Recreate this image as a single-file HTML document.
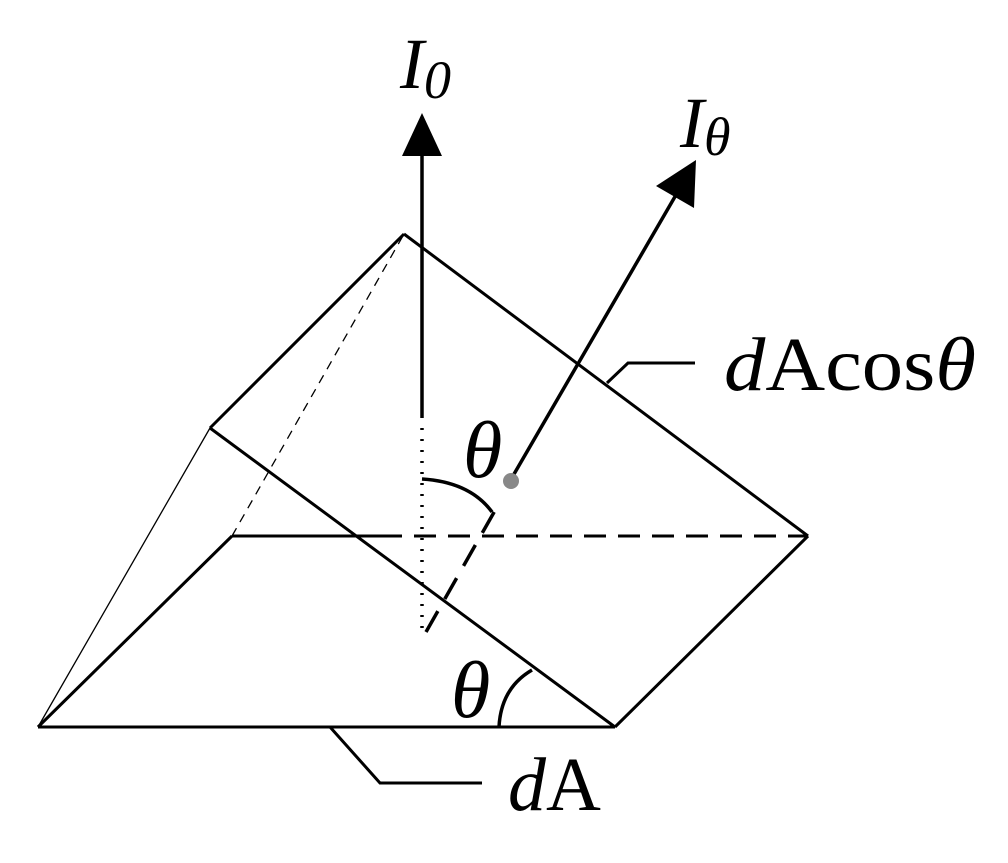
<!DOCTYPE html>
<html><head><style>body{margin:0;background:#fff}svg{display:block}</style></head><body>
<svg width="1008" height="863" viewBox="0 0 1008 863" xmlns="http://www.w3.org/2000/svg">
<g stroke="#000" fill="none" stroke-width="3">
<line x1="38" y1="727" x2="615" y2="727"/>
<line x1="404" y1="234" x2="808" y2="536"/>
<line x1="210" y1="428" x2="615" y2="727"/>
<line x1="404" y1="234" x2="210" y2="428"/>
<line x1="808" y1="536" x2="615" y2="727"/>
<line x1="38" y1="727" x2="232" y2="536"/>
<line x1="38" y1="727" x2="210" y2="428" stroke-width="1.3"/>
<line x1="232" y1="536" x2="404" y2="234" stroke-width="1.3" stroke-dasharray="9,7"/>
<line x1="232" y1="536" x2="380" y2="536"/>
<line x1="380" y1="536" x2="808" y2="536" stroke-dasharray="22,12"/>
<line x1="422" y1="150" x2="422" y2="418" stroke-width="3.5"/>
<line x1="422" y1="428" x2="422" y2="632" stroke-width="3.5" stroke-dasharray="2,9"/>
<line x1="426" y1="632" x2="497" y2="507" stroke-width="3.5" stroke-dasharray="24,14"/>
<line x1="510" y1="481" x2="680" y2="188" stroke-width="3.5"/>
<path d="M422 479 Q470 482 492 512" stroke-width="3.5"/>
<path d="M499 727 Q501 688 532 670" stroke-width="3.5"/>
<polyline points="330,727 380,783 482,783"/>
<polyline points="607,383 628,363 695,363"/>
</g>
<polygon points="422,113 402,156 442,156" fill="#000"/>
<polygon points="696,160 656,186 694,208" fill="#000"/>
<circle cx="511" cy="481" r="8" fill="#888"/>
<g font-family="Liberation Serif, serif" font-style="italic" fill="#000">
<text x="400" y="88" font-size="72">I<tspan font-size="54" dy="10">0</tspan></text>
<text x="680" y="147" font-size="72">I<tspan font-size="54" dy="8">θ</tspan></text>
<text x="463" y="477" font-size="80">θ</text>
<text x="451" y="717" font-size="80">θ</text>
<text x="508" y="810" font-size="76">d<tspan font-style="normal">A</tspan></text>
<text x="724" y="390" font-size="76" textLength="252" lengthAdjust="spacingAndGlyphs">d<tspan font-style="normal">Acos</tspan>θ</text>
</g>
</svg>
</body></html>
